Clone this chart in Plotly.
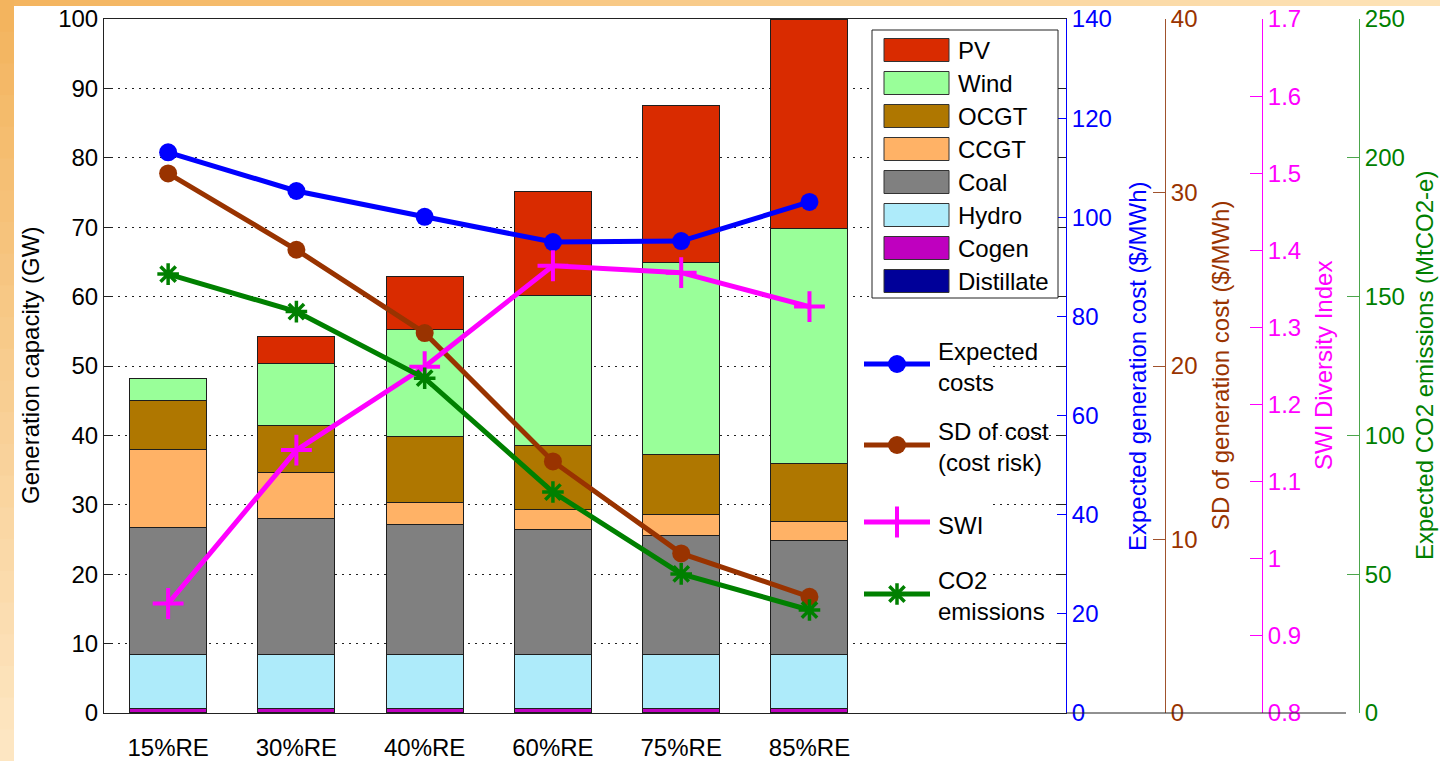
import plotly.graph_objects as go

# ---------------- data ----------------
scenarios = ["15%RE", "30%RE", "40%RE", "60%RE", "75%RE", "85%RE"]
scenario_pos = [1, 2, 3, 4, 5, 6]

# installed capacity by technology (GW)
distillate = [0.1, 0.1, 0.1, 0.1, 0.1, 0.1]
cogen = [0.55, 0.55, 0.55, 0.55, 0.55, 0.55]
hydro = [7.8, 7.8, 7.8, 7.8, 7.8, 7.8]
coal = [18.35, 19.6, 18.75, 18.05, 17.15, 16.35]
ccgt = [11.1, 6.65, 3.1, 2.85, 3.0, 2.8]
ocgt = [7.2, 6.7, 9.5, 9.15, 8.6, 8.3]
wind = [3.1, 9.0, 15.4, 21.6, 27.7, 33.9]
pv = [0.0, 3.8, 7.7, 15.0, 22.6, 30.2]

# portfolio metrics
expected_cost = [113.1, 105.3, 100.1, 95.0, 95.2, 103.1]   # $/MWh
sd_cost = [31.1, 26.7, 21.9, 14.5, 9.2, 6.7]               # $/MWh
swi_index = [0.942, 1.141, 1.249, 1.380, 1.371, 1.327]
co2_emissions = [158.1, 144.6, 120.6, 79.6, 50.1, 37.1]    # MtCO2-e

# axis ticks
gw_ticks = [0, 10, 20, 30, 40, 50, 60, 70, 80, 90, 100]
cost_ticks = [0, 20, 40, 60, 80, 100, 120, 140]
sd_ticks = [0, 10, 20, 30, 40]
swi_ticks = [0.8, 0.9, 1.0, 1.1, 1.2, 1.3, 1.4, 1.5, 1.6, 1.7]
swi_labels = ["0.8", "0.9", "1", "1.1", "1.2", "1.3", "1.4", "1.5", "1.6", "1.7"]
co2_ticks = [0, 50, 100, 150, 200, 250]

# ---------------- styling ----------------
FONT = "Liberation Sans, Arial, sans-serif"
W, H = 1440, 761
PX0, PX1, PY0, PY1 = 104, 1066, 19, 713   # plot box in pixels

BLUE = "#0000FF"
BROWN = "#993300"
MAGENTA = "#FF00FF"
GREEN = "#008000"

tech_colors = {
    "PV": "#D92B00",
    "Wind": "#99FF99",
    "OCGT": "#AF7700",
    "CCGT": "#FFB266",
    "Coal": "#808080",
    "Hydro": "#AEEBFA",
    "Cogen": "#BF00BF",
    "Distillate": "#000099",
}
stack = [("Distillate", distillate), ("Cogen", cogen), ("Hydro", hydro), ("Coal", coal),
         ("CCGT", ccgt), ("OCGT", ocgt), ("Wind", wind), ("PV", pv)]


def fx(px):
    return px / W


def fy(py):
    return 1 - py / H


fig = go.Figure()

for name, vals in stack:
    fig.add_trace(go.Bar(
        x=scenario_pos, y=vals, name=name, width=0.6,
        marker=dict(color=tech_colors[name], line=dict(color="#1e1e1e", width=1)),
        xaxis="x", yaxis="y", showlegend=False, hoverinfo="skip"))

metric_styles = [
    ("Expected costs", expected_cost, "y2", BLUE, dict(symbol="circle", size=18, color=BLUE)),
    ("SD of cost", sd_cost, "y3", BROWN, dict(symbol="circle", size=18, color=BROWN)),
    ("SWI", swi_index, "y4", MAGENTA,
     dict(symbol="cross-thin-open", size=22, color=MAGENTA, line=dict(color=MAGENTA, width=4))),
    ("CO2 emissions", co2_emissions, "y5", GREEN,
     dict(symbol="asterisk-open", size=18, color=GREEN, line=dict(color=GREEN, width=3.5))),
]
for name, vals, ax, col, mk in metric_styles:
    fig.add_trace(go.Scatter(
        x=scenario_pos, y=vals, name=name, mode="lines+markers", yaxis=ax, xaxis="x",
        line=dict(color=col, width=5), marker=mk, showlegend=False, cliponaxis=False))

tickfont = dict(family=FONT, size=24)

layout_axes = dict(
    xaxis=dict(domain=[fx(PX0), fx(PX1)], range=[0.5, 8], tickvals=scenario_pos, ticktext=scenarios,
               showline=True, linecolor="#222", linewidth=1, mirror=True, ticks="",
               ticklabelstandoff=13,
               showgrid=False, zeroline=False, tickfont=dict(tickfont, color="black"),
               anchor="y"),
    yaxis=dict(domain=[fy(PY1), fy(PY0)], range=[0, 100], tickvals=gw_ticks,
               showline=True, linecolor="#222", linewidth=1, mirror="ticks",
               ticks="inside", ticklen=8, tickcolor="#222",
               showgrid=True, gridcolor="#222", gridwidth=1, griddash="2px,5px",
               zeroline=False, tickfont=dict(tickfont, color="black"), anchor="x"),
    yaxis2=dict(overlaying="y", side="right", anchor="x", range=[0, 140], tickvals=cost_ticks,
                showline=True, linecolor=BLUE, ticks="inside", ticklen=9, tickcolor=BLUE,
                showgrid=False, zeroline=False, tickfont=dict(tickfont, color=BLUE)),
    yaxis3=dict(overlaying="y", side="right", anchor="free", position=fx(1165), range=[0, 40],
                tickvals=sd_ticks, showline=True, linecolor="#A0522D", ticks="inside", ticklen=12,
                tickcolor="#A0522D", showgrid=False, zeroline=False,
                tickfont=dict(tickfont, color=BROWN)),
    yaxis4=dict(overlaying="y", side="right", anchor="free", position=fx(1262), range=[0.8, 1.7],
                tickvals=swi_ticks, ticktext=swi_labels, showline=True, linecolor=MAGENTA,
                ticks="inside", ticklen=12, tickcolor=MAGENTA, showgrid=False, zeroline=False,
                tickfont=dict(tickfont, color=MAGENTA)),
    yaxis5=dict(overlaying="y", side="right", anchor="free", position=fx(1359), range=[0, 250],
                tickvals=co2_ticks, showline=True, linecolor="#4CA64C", ticks="inside", ticklen=12,
                tickcolor="#4CA64C", showgrid=False, zeroline=False,
                tickfont=dict(tickfont, color=GREEN)),
    # pixel-space overlay used for the legends and the frame
    xaxis2=dict(domain=[0, 1], range=[0, W], visible=False, anchor="y6", fixedrange=True),
    yaxis6=dict(domain=[0, 1], range=[H, 0], visible=False, anchor="x2", fixedrange=True),
)

shapes = []
annotations = []

# orange page frame (top and left strips)
n_band = 24
for i in range(n_band):
    t = i / (n_band - 1)
    r, g, b = 244 + 9 * t, 181 + 46 * t, 96 + 88 * t
    shapes.append(dict(type="rect", xref="x2", yref="y6", x0=i * W / n_band, x1=(i + 1) * W / n_band + 1,
                       y0=0, y1=6, fillcolor=f"rgb({r:.0f},{g:.0f},{b:.0f})", line=dict(width=0),
                       layer="below"))
for i in range(n_band):
    t = i / (n_band - 1)
    r, g, b = 243 + 10 * t, 180 + 50 * t, 94 + 100 * t
    shapes.append(dict(type="rect", xref="x2", yref="y6", x0=0, x1=14, y0=i * H / n_band,
                       y1=(i + 1) * H / n_band + 1, fillcolor=f"rgb({r:.0f},{g:.0f},{b:.0f})",
                       line=dict(width=0), layer="below"))

# bottom baseline running under the extra axes
shapes.append(dict(type="line", xref="x2", yref="y6", x0=PX1, x1=1346, y0=PY1, y1=PY1,
                   line=dict(color="#222", width=1)))

# technology legend box
shapes.append(dict(type="rect", xref="x2", yref="y6", x0=872, x1=1058, y0=30, y1=298,
                   fillcolor="white", line=dict(color="#222", width=1), layer="above"))
for i, name in enumerate(["PV", "Wind", "OCGT", "CCGT", "Coal", "Hydro", "Cogen", "Distillate"]):
    yc = 50 + 33 * i
    shapes.append(dict(type="rect", xref="x2", yref="y6", x0=884, x1=949, y0=yc - 11.5, y1=yc + 11.5,
                       fillcolor=tech_colors[name], line=dict(color="#333", width=1), layer="above"))
    annotations.append(dict(xref="x2", yref="y6", x=956, y=yc, text=name, showarrow=False,
                            xanchor="left", yanchor="middle", font=dict(family=FONT, size=24, color="black")))

# metric legend (white backing, no border)
shapes.append(dict(type="rect", xref="x2", yref="y6", x0=853, x1=993, y0=330, y1=630,
                   fillcolor="white", line=dict(width=0), layer="between"))
metric_legend = [
    ("Expected<br>costs", 364, 367),
    ("SD of cost<br>(cost risk)", 445, 447),
    ("SWI", 522, 525),
    ("CO2<br>emissions", 594, 596),
]
for (label, yl, yt), (_, _, _, col, mk) in zip(metric_legend, metric_styles):
    fig.add_trace(go.Scatter(x=[864, 930], y=[yl, yl], mode="lines", xaxis="x2", yaxis="y6",
                             line=dict(color=col, width=5), showlegend=False, hoverinfo="skip"))
    fig.add_trace(go.Scatter(x=[897], y=[yl], mode="markers", xaxis="x2", yaxis="y6",
                             marker=mk, showlegend=False, hoverinfo="skip"))
    annotations.append(dict(xref="x2", yref="y6", x=936, y=yt, text=label, showarrow=False,
                            xanchor="left", yanchor="middle", align="left",
                            font=dict(family=FONT, size=24, color="black")))

# axis titles
axis_titles = [
    ("Generation capacity (GW)", 30, "black"),
    ("Expected generation cost ($/MWh)", 1137, BLUE),
    ("SD of generation cost ($/MWh)", 1220, BROWN),
    ("SWI Diversity Index", 1323, MAGENTA),
    ("Expected CO2 emissions (MtCO2-e)", 1424, GREEN),
]
for text, xc, col in axis_titles:
    annotations.append(dict(xref="paper", yref="paper", x=fx(xc), y=fy(366), text=text,
                            textangle=-90, showarrow=False, xanchor="center", yanchor="middle",
                            font=dict(family=FONT, size=24, color=col)))

fig.update_layout(
    width=W, height=H, margin=dict(l=0, r=0, t=0, b=0, autoexpand=False),
    paper_bgcolor="white", plot_bgcolor="rgba(0,0,0,0)",
    barmode="stack", bargap=0.4, showlegend=False,
    font=dict(family=FONT, size=24, color="black"),
    shapes=shapes, annotations=annotations,
    **layout_axes,
)

fig.write_html("out.html")
